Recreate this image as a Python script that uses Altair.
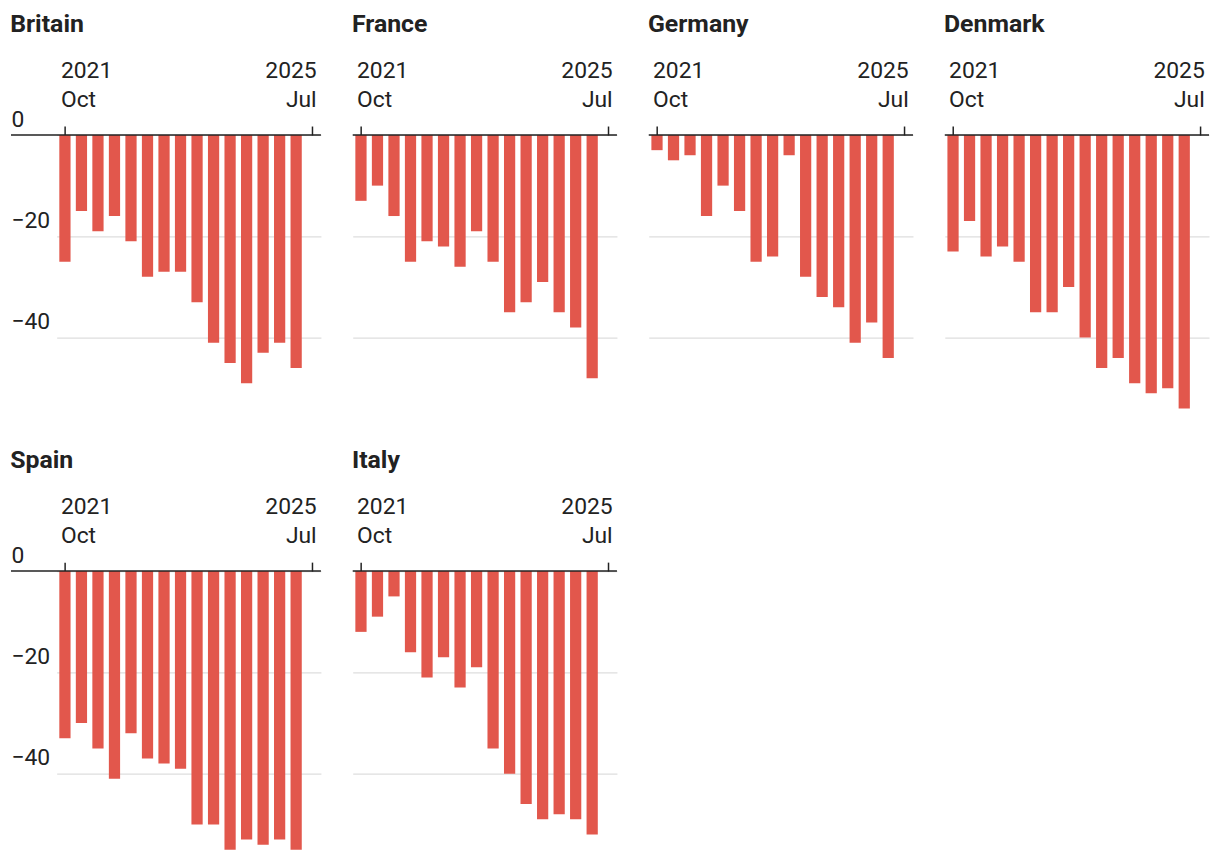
import altair as alt
import pandas as pd

# Quarterly periods on the x axis (last one, Jul 2025, has no bar)
quarters = ["2021 Q4", "2022 Q1", "2022 Q2", "2022 Q3", "2022 Q4",
            "2023 Q1", "2023 Q2", "2023 Q3", "2023 Q4",
            "2024 Q1", "2024 Q2", "2024 Q3", "2024 Q4",
            "2025 Q1", "2025 Q2", "2025 Q3"]
data_quarters = quarters[:15]
tick_first, tick_last = "2021 Q4", "2025 Q3"
label_first = ["2021", "Oct"]
label_last = ["2025", "Jul"]
y_ticks = [0, -20, -40]

countries = ["Britain", "France", "Germany", "Denmark", "Spain", "Italy"]
britain = [-25, -15, -19, -16, -21, -28, -27, -27, -33, -41, -45, -49, -43, -41, -46]
france = [-13, -10, -16, -25, -21, -22, -26, -19, -25, -35, -33, -29, -35, -38, -48]
germany = [-3, -5, -4, -16, -10, -15, -25, -24, -4, -28, -32, -34, -41, -37, -44]
denmark = [-23, -17, -24, -22, -25, -35, -35, -30, -40, -46, -44, -49, -51, -50, -54]
spain = [-33, -30, -35, -41, -32, -37, -38, -39, -50, -50, -55, -53, -54, -53, -55]
italy = [-12, -9, -5, -16, -21, -17, -23, -19, -35, -40, -46, -49, -48, -49, -52]
series = [britain, france, germany, denmark, spain, italy]

RED = "#e2574c"
INK = "#222222"
FONT = "Roboto"

label_expr = (
    f"datum.value == '{tick_first}' ? ['{label_first[0]}', '{label_first[1]}'] : "
    f"['{label_last[0]}', '{label_last[1]}']"
)


def panel(name, vals, first_col):
    df = pd.DataFrame({"quarter": data_quarters, "value": vals})
    w = 312 if first_col else 266
    if first_col:
        xscale = alt.Scale(domain=quarters, paddingInner=0.32, paddingOuter=0.16, range=[46, 312])
    else:
        xscale = alt.Scale(domain=quarters, paddingInner=0.32, paddingOuter=0.16)
    xaxis = alt.Axis(
        orient="top", values=[tick_first, tick_last], labelExpr=label_expr,
        title=None, domain=False, grid=False, ticks=True,
        tickColor=INK, tickSize=9, tickWidth=1.5,
        labelPadding=44, labelFlush=15, labelFlushOffset=4, labelLineHeight=29,
        labelFontSize=23, labelFont=FONT, labelColor=INK, labelAngle=0,
    )
    yaxis = alt.Axis(
        values=y_ticks, title=None, domain=False, ticks=False, tickSize=0,
        grid=True, gridColor="#dedede", gridWidth=1.3,
        labels=first_col, labelAlign="left", labelBaseline="alphabetic",
        labelOffset=-9, labelPadding=0, labelFontSize=23, labelFont=FONT,
        labelColor=INK,
    )
    bars = alt.Chart(df).mark_bar(color=RED).encode(
        x=alt.X("quarter:O", scale=xscale, axis=xaxis),
        y=alt.Y("value:Q", scale=alt.Scale(domain=[-55, 0], nice=False), axis=yaxis),
    )
    rule = alt.Chart(pd.DataFrame({"value": [0]})).mark_rule(
        color=INK, strokeWidth=1.6
    ).encode(y="value:Q")
    return alt.layer(bars, rule).properties(
        width=w, height=280.5,
        title=alt.TitleParams(text=name, anchor="start", fontSize=25, fontWeight="bold",
                              font=FONT, color=INK, offset=23),
    )


panels = [panel(c, s, i % 4 == 0) for i, (c, s) in enumerate(zip(countries, series))]
row1 = alt.hconcat(*panels[:4], spacing=30)
row2 = alt.hconcat(*panels[4:], spacing=30)
chart = alt.vconcat(row1, row2, spacing=34).properties(
    padding={"left": 2, "top": 1, "right": 2, "bottom": 2}
).configure_view(stroke=None)

chart.save("out.html", embed_options={"renderer": "svg", "actions": False})
